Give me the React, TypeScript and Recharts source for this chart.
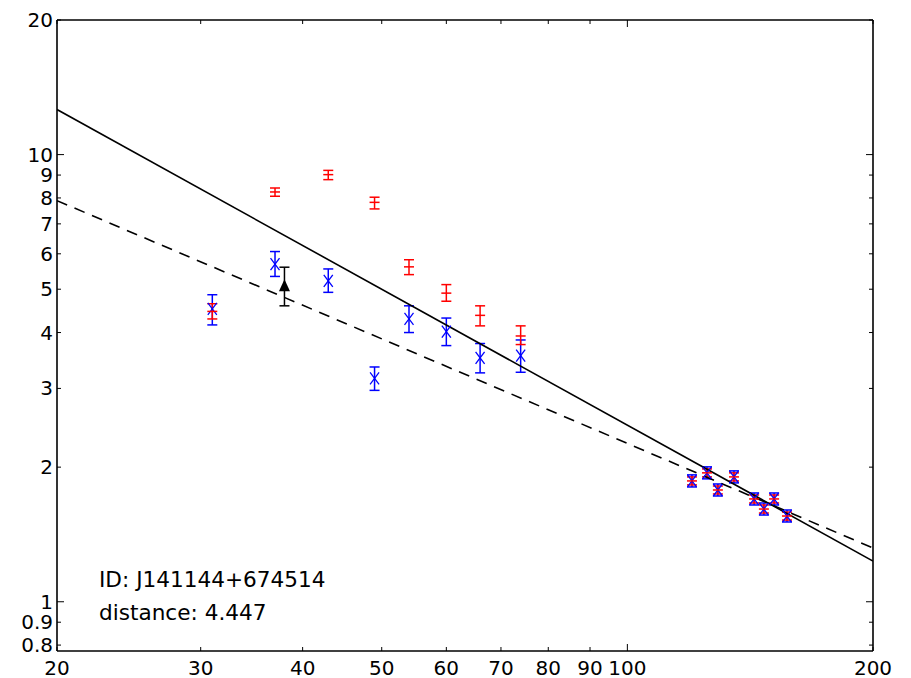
import React from "react";
import { ComposedChart, Scatter, XAxis, YAxis, ErrorBar } from "recharts";

const xTicks = [20, 30, 40, 50, 60, 70, 80, 90, 100, 200];
const yTicks = [0.8, 0.9, 1, 2, 3, 4, 5, 6, 7, 8, 9, 10, 20];
const majorTicks = [1, 10, 100];

// band positions shared by the blue and red measurements
const bandX = [31, 37, 43, 49, 54, 60, 66, 74, 120, 125.2, 129.1, 135.1, 143, 147, 151.3, 156.9];

const blueY = [4.52, 5.69, 5.22, 3.16, 4.29, 4.02, 3.51, 3.55, 1.863, 1.942, 1.778, 1.902, 1.698, 1.612, 1.698, 1.555];
const blueLow = [4.16, 5.34, 4.92, 2.97, 4.0, 3.74, 3.25, 3.26, 1.806, 1.883, 1.724, 1.844, 1.646, 1.563, 1.646, 1.508];
const blueHigh = [4.86, 6.07, 5.55, 3.35, 4.59, 4.31, 3.78, 3.85, 1.922, 2.003, 1.834, 1.962, 1.751, 1.663, 1.751, 1.604];

const redY = [4.46, 8.25, 9.02, 7.82, 5.61, 4.9, 4.37, 3.93, 1.863, 1.942, 1.778, 1.902, 1.698, 1.612, 1.698, 1.555];
const redLow = [4.29, 8.07, 8.79, 7.56, 5.39, 4.7, 4.14, 3.76, 1.825, 1.902, 1.742, 1.863, 1.663, 1.579, 1.663, 1.523];
const redHigh = [4.64, 8.42, 9.22, 8.03, 5.82, 5.12, 4.59, 4.14, 1.902, 1.982, 1.815, 1.942, 1.733, 1.646, 1.733, 1.587];

const limitX = [38];
const limitY = [5.08];
const limitLow = [4.59];
const limitHigh = [5.6];

const fitX = [20, 200];
const solidFitY = [12.61, 1.233];
const dashedFitY = [7.89, 1.319];

const build = (xs: number[], ys: number[], lo: number[], hi: number[]) =>
  xs.map((x, i) => ({ x, y: ys[i], err: [ys[i] - lo[i], hi[i] - ys[i]] }));

const blueData = build(bandX, blueY, blueLow, blueHigh);
const redData = build(bandX, redY, redLow, redHigh);
const limitData = build(limitX, limitY, limitLow, limitHigh);
const solidFit = fitX.map((x, i) => ({ x, y: solidFitY[i] }));
const dashedFit = fitX.map((x, i) => ({ x, y: dashedFitY[i] }));

const FONT = "DejaVu Sans";
const tickLen = (v: number) => (majorTicks.includes(v) ? 7 : 4);

function BottomTick(props: any) {
  const { x, y, payload } = props;
  return (
    <g>
      <line x1={x} y1={y} x2={x} y2={y - tickLen(payload.value)} stroke="#000" />
      <text x={x} y={y + 24} textAnchor="middle" fontSize={20} fontFamily={FONT} fill="#000">
        {payload.value}
      </text>
    </g>
  );
}

function TopTick(props: any) {
  const { x, y, payload } = props;
  return <line x1={x} y1={y} x2={x} y2={y + tickLen(payload.value)} stroke="#000" />;
}

function LeftTick(props: any) {
  const { x, y, payload } = props;
  return (
    <g>
      <line x1={x} y1={y} x2={x + tickLen(payload.value)} y2={y} stroke="#000" />
      <text x={x - 4} y={y + 7} textAnchor="end" fontSize={20} fontFamily={FONT} fill="#000">
        {payload.value}
      </text>
    </g>
  );
}

function RightTick(props: any) {
  const { x, y, payload } = props;
  return <line x1={x} y1={y} x2={x - tickLen(payload.value)} y2={y} stroke="#000" />;
}

function XMark(props: any) {
  const { cx, cy } = props;
  return (
    <g stroke="#0000ff" strokeWidth={1.3}>
      <line x1={cx - 4.5} y1={cy - 6} x2={cx + 4.5} y2={cy + 6} />
      <line x1={cx - 4.5} y1={cy + 6} x2={cx + 4.5} y2={cy - 6} />
    </g>
  );
}

function DashMark(props: any) {
  const { cx, cy } = props;
  return <line x1={cx - 5} y1={cy} x2={cx + 5} y2={cy} stroke="#ff0000" strokeWidth={1.5} />;
}

function TriMark(props: any) {
  const { cx, cy } = props;
  return <polygon points={`${cx},${cy - 7} ${cx - 5.5},${cy + 5} ${cx + 5.5},${cy + 5}`} fill="#000" />;
}

const NoMark = () => <g />;

const axisLine = { stroke: "#000", strokeWidth: 1.6 };

export default function App() {
  return (
    <div style={{ position: "absolute", left: 0, top: 0, background: "#fff", fontFamily: FONT }}>
      <ComposedChart width={911} height={678} margin={{ top: 0, right: 0, bottom: 0, left: 0 }}>
        <XAxis
          dataKey="x" type="number" scale="log" domain={[20, 200]} allowDataOverflow
          ticks={xTicks} interval={0} height={27} tickSize={0} tickMargin={0}
          tickLine={false} axisLine={axisLine} tick={<BottomTick />}
        />
        <XAxis
          xAxisId="top" orientation="top" dataKey="x" type="number" scale="log" domain={[20, 200]}
          allowDataOverflow ticks={xTicks} interval={0} height={20} tickSize={0} tickMargin={0}
          tickLine={false} axisLine={axisLine} tick={<TopTick />}
        />
        <YAxis
          dataKey="y" type="number" scale="log" domain={[0.776, 20]} allowDataOverflow
          ticks={yTicks} interval={0} width={57} tickSize={0} tickMargin={0}
          tickLine={false} axisLine={axisLine} tick={<LeftTick />}
        />
        <YAxis
          yAxisId="right" orientation="right" dataKey="y" type="number" scale="log" domain={[0.776, 20]}
          allowDataOverflow ticks={yTicks} interval={0} width={38} tickSize={0} tickMargin={0}
          tickLine={false} axisLine={axisLine} tick={<RightTick />}
        />

        <Scatter data={solidFit} line={{ stroke: "#000", strokeWidth: 1.6 }} shape={NoMark} isAnimationActive={false} />
        <Scatter
          data={dashedFit} xAxisId="top" yAxisId="right"
          line={{ stroke: "#000", strokeWidth: 1.6, strokeDasharray: "11 8" }}
          shape={NoMark} isAnimationActive={false}
        />

        <Scatter data={blueData} shape={XMark} isAnimationActive={false}>
          <ErrorBar dataKey="err" direction="y" width={5} stroke="#0000ff" strokeWidth={1.5} />
        </Scatter>
        <Scatter data={redData} shape={DashMark} isAnimationActive={false}>
          <ErrorBar dataKey="err" direction="y" width={5} stroke="#ff0000" strokeWidth={1.5} />
        </Scatter>
        <Scatter data={limitData} shape={TriMark} isAnimationActive={false}>
          <ErrorBar dataKey="err" direction="y" width={5} stroke="#000" strokeWidth={1.5} />
        </Scatter>

        <text x={99} y={587} fontSize={21.6} fontFamily={FONT} fill="#000">ID: J141144+674514</text>
        <text x={99} y={620} fontSize={21.6} fontFamily={FONT} fill="#000">distance: 4.447</text>
      </ComposedChart>
    </div>
  );
}
